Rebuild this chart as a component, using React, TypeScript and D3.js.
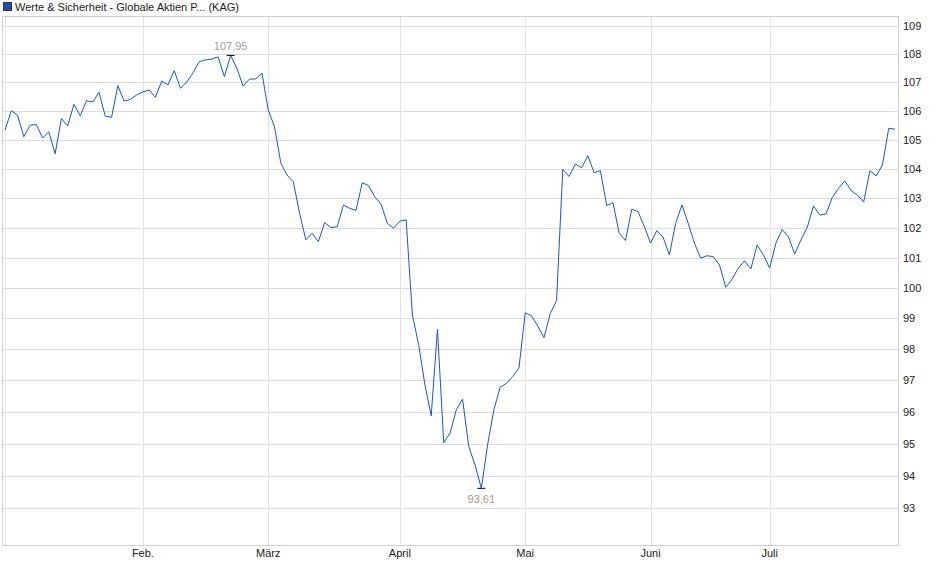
import React from 'react';
import * as d3 from 'd3';

// Fund price per trading day, Jan to late July
const values: number[] = [
  105.33, 106.0, 105.85, 105.1, 105.5, 105.52, 105.05, 105.27, 104.51, 105.73,
  105.47, 106.23, 105.82, 106.35, 106.31, 106.65, 105.81, 105.77, 106.88, 106.34,
  106.4, 106.55, 106.66, 106.73, 106.47, 107.04, 106.91, 107.41, 106.79, 107.01,
  107.33, 107.73, 107.79, 107.82, 107.9, 107.2, 107.95, 107.49, 106.86, 107.11,
  107.12, 107.32, 106.03, 105.44, 104.2, 103.78, 103.55, 102.49, 101.59, 101.81,
  101.53, 102.17, 102.0, 102.03, 102.76, 102.65, 102.58, 103.52, 103.42, 103.04,
  102.79, 102.15, 101.98, 102.22, 102.26, 99.11, 98.14, 96.85, 95.87, 98.64,
  95.03, 95.32, 96.06, 96.4, 94.9, 94.33, 93.61, 94.96, 96.06, 96.78,
  96.9, 97.12, 97.39, 99.18, 99.08, 98.75, 98.37, 99.16, 99.58, 103.98,
  103.73, 104.16, 104.03, 104.44, 103.86, 103.93, 102.74, 102.84, 101.81, 101.57,
  102.62, 102.54, 102.04, 101.48, 101.9, 101.68, 101.09, 102.14, 102.76, 102.15,
  101.48, 100.98, 101.06, 101.03, 100.75, 100.02, 100.28, 100.65, 100.89, 100.62,
  101.42, 101.09, 100.65, 101.48, 101.94, 101.69, 101.12, 101.59, 102.01, 102.73,
  102.42, 102.46, 103.02, 103.33, 103.58, 103.25, 103.1, 102.86, 103.93, 103.75,
  104.13, 105.39, 105.36,
];

// month labels and the trading-day index where each month starts
const monthLabels = ['Feb.', 'März', 'April', 'Mai', 'Juni', 'Juli'];
const monthStarts = [22, 42, 63, 83, 103, 122];

const yTicks = [93, 94, 95, 96, 97, 98, 99, 100, 101, 102, 103, 104, 105, 106, 107, 108, 109];

const title = 'Werte & Sicherheit - Globale Aktien P... (KAG)';

const W = 940;
const H = 579;
const plot = { left: 2.5, right: 898.5, top: 16.5, bottom: 545.5 };
const font = '"Liberation Sans", Arial, sans-serif';

const App: React.FC = () => {
  const x = d3.scaleLinear().domain([0, values.length - 1]).range([5, 895]);
  const y = d3.scaleLog().domain([91.88, 109.36]).range([545, 16]);

  const line = d3
    .line<number>()
    .x((_, i) => x(i))
    .y((d) => y(d));

  const maxIdx = d3.maxIndex(values);
  const minIdx = d3.minIndex(values);
  const fmt = (v: number) => v.toFixed(2).replace('.', ',');

  return (
    <svg
      width={W}
      height={H}
      style={{ position: 'absolute', left: 0, top: 0, background: '#fff' }}
      fontFamily={font}
    >
      {/* legend / title */}
      <rect x={3.5} y={2.5} width={8} height={8} fill="#1f4fb4" stroke="#333" strokeWidth={1} />
      <text x={15} y={10.5} fontSize={11} fill="#222">
        {title}
      </text>

      {/* horizontal grid */}
      {yTicks.map((t) => (
        <line
          key={'h' + t}
          x1={plot.left}
          x2={plot.right}
          y1={Math.round(y(t)) + 0.5}
          y2={Math.round(y(t)) + 0.5}
          stroke="#dcdcdc"
        />
      ))}

      {/* vertical grid */}
      {[0, ...monthStarts].map((m) => (
        <line
          key={'v' + m}
          x1={Math.round(x(m)) + 0.5}
          x2={Math.round(x(m)) + 0.5}
          y1={plot.top}
          y2={plot.bottom}
          stroke="#e2e2e2"
        />
      ))}

      {/* frame */}
      <rect
        x={plot.left}
        y={plot.top}
        width={plot.right - plot.left}
        height={plot.bottom - plot.top}
        fill="none"
        stroke="#d0d0d0"
      />

      {/* y axis labels on the right */}
      {yTicks.map((t) => (
        <text key={'yl' + t} x={903} y={y(t) + 4} fontSize={11} fill="#222">
          {t}
        </text>
      ))}

      {/* x axis labels */}
      {monthStarts.map((m, i) => (
        <text key={'xl' + m} x={x(m)} y={557} fontSize={11} fill="#222" textAnchor="middle">
          {monthLabels[i]}
        </text>
      ))}

      {/* price line */}
      <path d={line(values) || ''} fill="none" stroke="#1a56c8" strokeWidth={1} />

      {/* max / min markers */}
      <line
        x1={x(maxIdx) - 4}
        x2={x(maxIdx) + 4}
        y1={y(values[maxIdx])}
        y2={y(values[maxIdx])}
        stroke="#000"
      />
      <text x={x(maxIdx)} y={y(values[maxIdx]) - 5} fontSize={11} fill="#9aa0a8" textAnchor="middle">
        {fmt(values[maxIdx])}
      </text>
      <line
        x1={x(minIdx) - 4}
        x2={x(minIdx) + 4}
        y1={y(values[minIdx])}
        y2={y(values[minIdx])}
        stroke="#000"
      />
      <text x={x(minIdx)} y={y(values[minIdx]) + 15} fontSize={11} fill="#a89c8c" textAnchor="middle">
        {fmt(values[minIdx])}
      </text>
    </svg>
  );
};

export default App;
